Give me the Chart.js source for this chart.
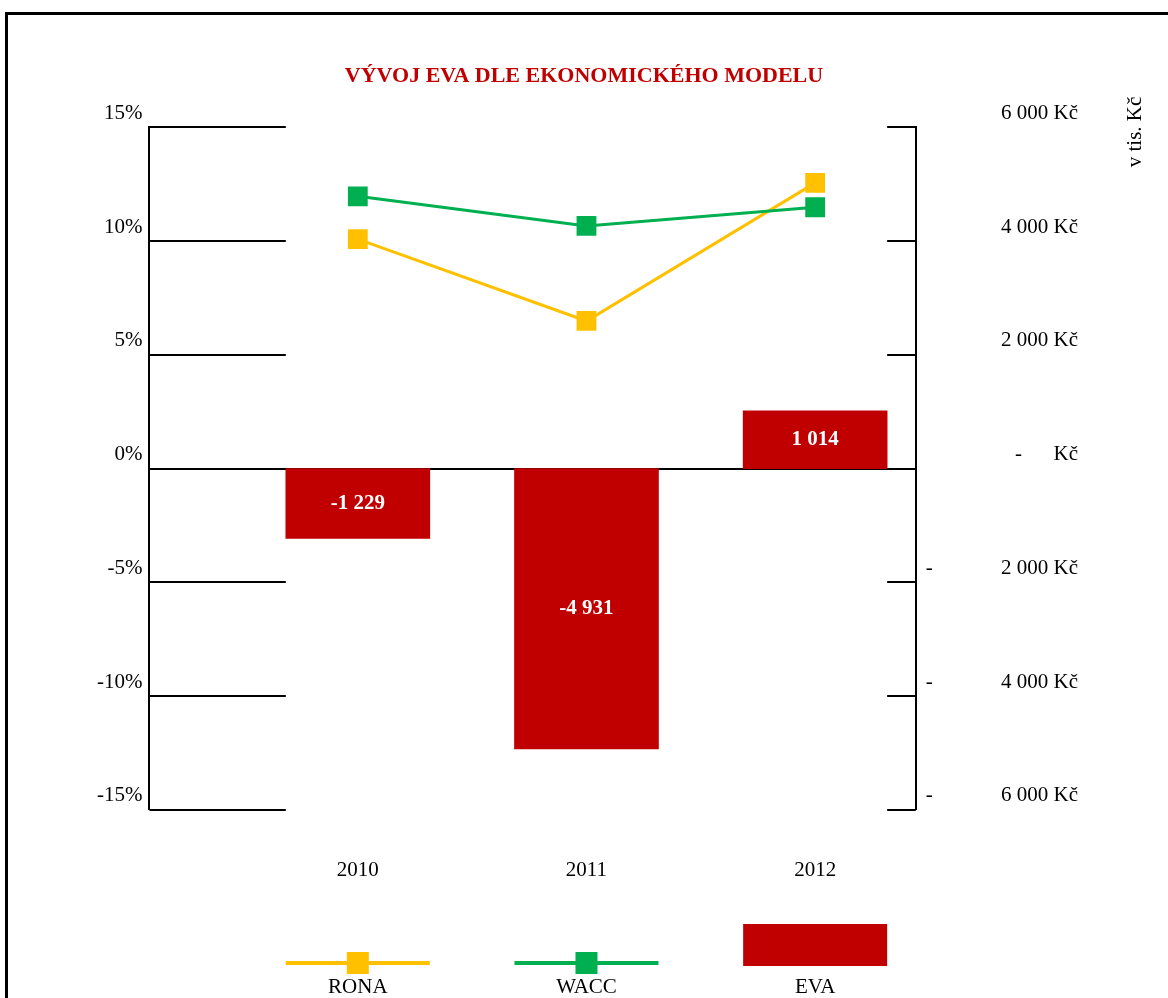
<!DOCTYPE html>
<html lang="cs">
<head>
<meta charset="utf-8">
<title>Vývoj EVA dle ekonomického modelu</title>
<script src="https://cdn.jsdelivr.net/npm/chart.js@4/dist/chart.umd.min.js"></script>
<style>
    html, body { margin: 0; padding: 0; background: #fff; overflow: hidden; }
    #ramecek { position: absolute; left: 5px; top: 12px; width: 1200px; height: 1000px; border-top: 3px solid #000; border-left: 3px solid #000; }
    #graf { position: absolute; left: 0; top: 0; }
</style>
</head>
<body>
<div id="ramecek"></div>
<canvas id="graf" width="1168" height="998"></canvas>
<script>
const roky = ["2010", "2011", "2012"];
const rona = [10.09, 6.49, 12.56];
const wacc = [11.97, 10.67, 11.49];
const eva = [-1229, -4931, 1014];
const nazev = "VÝVOJ EVA DLE EKONOMICKÉHO MODELU";
const jednotka = "v tis. Kč";

const pismo = "'Liberation Serif', 'Times New Roman', serif";
const cervena = "#C00000";
const zluta = "#FFC000";
const zelena = "#00B050";

function tisice(n) {
    return String(Math.abs(n)).replace(/\B(?=(\d{3})+(?!\d))/g, " ");
}

function popisekKc(v) {
    if (v === 0) return "-" + " ".repeat(6) + "Kč";
    const text = tisice(v) + " Kč";
    return v < 0 ? "-" + " ".repeat(13) + text : text;
}

// mrizka je videt jen mimo sloupce, nulova cara jde pres celou plochu
const mrizka = {
    id: "mrizka",
    beforeDatasetsDraw(chart) {
        const { ctx, chartArea, scales } = chart;
        const sloupce = chart.getDatasetMeta(2).data;
        const prvni = sloupce[0];
        const posledni = sloupce[sloupce.length - 1];
        const levy = prvni.x - prvni.width / 2;
        const pravy = posledni.x + posledni.width / 2;

        ctx.save();
        ctx.strokeStyle = "#000";
        ctx.lineWidth = 2;
        scales.y.ticks.forEach((tick) => {
            const y = Math.round(scales.y.getPixelForValue(tick.value));
            ctx.beginPath();
            if (tick.value === 0) {
                ctx.moveTo(chartArea.left, y);
                ctx.lineTo(chartArea.right, y);
            } else {
                ctx.moveTo(chartArea.left, y);
                ctx.lineTo(levy, y);
                ctx.moveTo(pravy, y);
                ctx.lineTo(chartArea.right, y);
            }
            ctx.stroke();
        });
        ctx.restore();
    }
};

const popiskySloupcu = {
    id: "popiskySloupcu",
    afterDatasetsDraw(chart) {
        const { ctx } = chart;
        const meta = chart.getDatasetMeta(2);
        ctx.save();
        ctx.fillStyle = "#fff";
        ctx.font = "bold 21px " + pismo;
        ctx.textAlign = "center";
        ctx.textBaseline = "middle";
        meta.data.forEach((sloupec, i) => {
            const hodnota = eva[i];
            const text = (hodnota < 0 ? "-" : "") + tisice(hodnota);
            ctx.fillText(text, sloupec.x, (sloupec.y + sloupec.base) / 2);
        });
        ctx.restore();
    }
};

const legenda = {
    id: "legenda",
    afterDraw(chart) {
        const { ctx, scales } = chart;
        const spodek = chart.height;
        const pul = 72;

        ctx.save();
        chart.data.datasets.forEach((ds, i) => {
            const cx = scales.x.getPixelForValue(Number(roky[i]));
            if (ds.type === "line") {
                ctx.strokeStyle = ds.borderColor;
                ctx.lineWidth = 4;
                ctx.beginPath();
                ctx.moveTo(cx - pul, spodek - 35);
                ctx.lineTo(cx + pul, spodek - 35);
                ctx.stroke();
                ctx.fillStyle = ds.backgroundColor;
                ctx.fillRect(cx - 11, spodek - 46, 22, 22);
            } else {
                ctx.fillStyle = ds.backgroundColor;
                ctx.fillRect(cx - pul, spodek - 74, pul * 2, 42);
            }
            ctx.fillStyle = "#000";
            ctx.font = "21px " + pismo;
            ctx.textAlign = "center";
            ctx.textBaseline = "middle";
            ctx.fillText(ds.label, cx, spodek - 11);
        });

        // jednotka prave osy, otocena zdola nahoru
        ctx.translate(1135, 132);
        ctx.rotate(-Math.PI / 2);
        ctx.fillStyle = "#000";
        ctx.font = "21px " + pismo;
        ctx.textAlign = "center";
        ctx.textBaseline = "middle";
        ctx.fillText(jednotka, 0, 0);
        ctx.restore();
    }
};

const pismoOs = { family: pismo, size: 21 };

new Chart(document.getElementById("graf"), {
    type: "bar",
    data: {
        labels: roky,
        datasets: [
            {
                type: "line",
                label: "RONA",
                data: rona,
                yAxisID: "y",
                borderColor: zluta,
                backgroundColor: zluta,
                borderWidth: 3,
                tension: 0,
                pointStyle: "rect",
                pointRadius: 14,
                pointBorderWidth: 0,
                order: 1
            },
            {
                type: "line",
                label: "WACC",
                data: wacc,
                yAxisID: "y",
                borderColor: zelena,
                backgroundColor: zelena,
                borderWidth: 3,
                tension: 0,
                pointStyle: "rect",
                pointRadius: 14,
                pointBorderWidth: 0,
                order: 0
            },
            {
                type: "bar",
                label: "EVA",
                data: eva,
                yAxisID: "y1",
                backgroundColor: cervena,
                borderWidth: 0,
                barThickness: 144,
                order: 2
            }
        ]
    },
    options: {
        responsive: false,
        animation: false,
        layout: {
            padding: { left: 90, right: 90, top: 0, bottom: 67 }
        },
        plugins: {
            legend: { display: false },
            tooltip: { enabled: false },
            title: {
                display: true,
                text: nazev,
                color: cervena,
                font: { family: pismo, size: 22, weight: "bold" },
                padding: { top: 63, bottom: 38 }
            }
        },
        scales: {
            x: {
                type: "linear",
                position: "bottom",
                min: 2009.089,
                max: 2012.44,
                offset: false,
                grid: { display: false, drawTicks: false },
                border: { display: false },
                afterBuildTicks: (osa) => {
                    osa.ticks = roky.map((rok) => ({ value: Number(rok) }));
                },
                ticks: {
                    autoSkip: false,
                    maxRotation: 0,
                    padding: 48,
                    color: "#000",
                    font: pismoOs,
                    callback: (v) => String(v)
                }
            },
            y: {
                position: "left",
                min: -15,
                max: 15,
                grid: { display: false, drawTicks: false },
                border: { display: true, color: "#000", width: 2 },
                ticks: {
                    stepSize: 5,
                    padding: 7,
                    labelOffset: -14,
                    color: "#000",
                    font: pismoOs,
                    callback: (v) => v + "%"
                }
            },
            y1: {
                position: "right",
                min: -6000,
                max: 6000,
                grid: { display: false, drawTicks: false },
                border: { display: true, color: "#000", width: 2 },
                ticks: {
                    stepSize: 2000,
                    padding: 5,
                    labelOffset: -14,
                    crossAlign: "far",
                    color: "#000",
                    font: pismoOs,
                    callback: (v) => popisekKc(v)
                }
            }
        }
    },
    plugins: [mrizka, popiskySloupcu, legenda]
});
</script>
</body>
</html>
